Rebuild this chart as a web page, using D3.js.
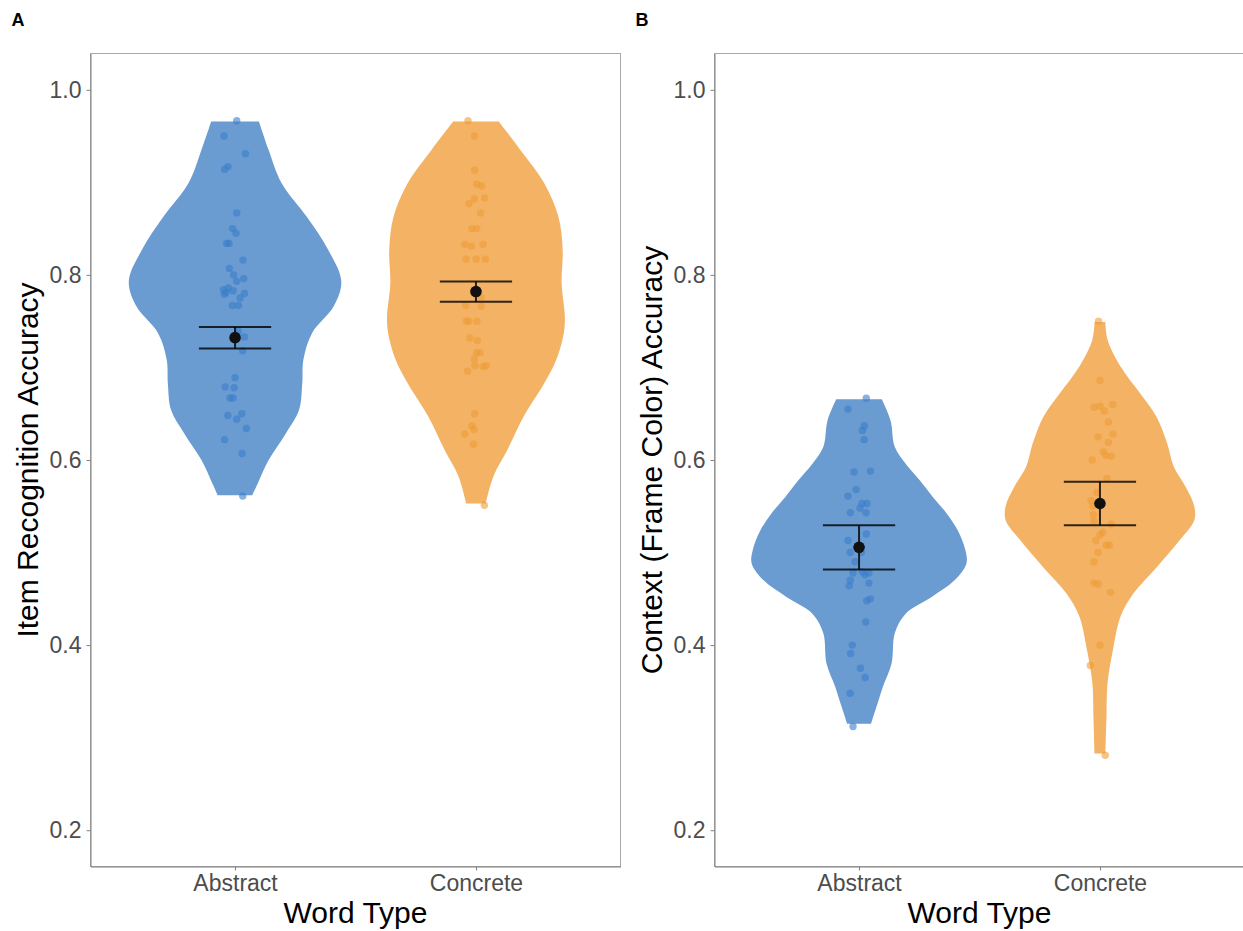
<!DOCTYPE html>
<html>
<head>
<meta charset="utf-8">
<script src="https://cdn.jsdelivr.net/npm/d3@7"></script>
<style>
  body { margin: 0; background: #fff; }
  svg text { font-family: "Liberation Sans", Arial, sans-serif; }
</style>
</head>
<body>
<div id="chart"></div>
<script>
// categories and tick labels
const categories = ["Abstract", "Concrete"];
const yTicks = [0.2, 0.4, 0.6, 0.8, 1.0];

// violin outlines: [accuracy, relative density]
const itemAbstractProfile = [[0.9657,0.22],[0.935,0.31],[0.899,0.43],[0.863,0.66],[0.827,0.86],[0.793,0.98],[0.766,0.91],[0.737,0.71],[0.708,0.63],[0.683,0.62],[0.654,0.59],[0.629,0.47],[0.600,0.31],[0.575,0.21],[0.562,0.16]];
const itemConcreteProfile = [[0.9657,0.21],[0.935,0.41],[0.899,0.63],[0.863,0.76],[0.827,0.80],[0.791,0.79],[0.755,0.82],[0.737,0.81],[0.708,0.74],[0.683,0.63],[0.647,0.44],[0.611,0.29],[0.582,0.16],[0.553,0.09]];
const contextAbstractProfile = [[0.6656,0.21],[0.643,0.29],[0.614,0.33],[0.596,0.43],[0.578,0.56],[0.560,0.68],[0.542,0.81],[0.524,0.91],[0.503,0.98],[0.488,0.99],[0.470,0.88],[0.452,0.67],[0.434,0.43],[0.413,0.33],[0.380,0.30],[0.355,0.22],[0.333,0.16],[0.315,0.11]];
const contextConcreteProfile = [[0.749,0.05],[0.730,0.07],[0.701,0.19],[0.672,0.37],[0.647,0.52],[0.618,0.62],[0.593,0.68],[0.571,0.79],[0.550,0.87],[0.535,0.87],[0.514,0.74],[0.485,0.53],[0.456,0.31],[0.431,0.19],[0.395,0.12],[0.359,0.07],[0.322,0.06],[0.283,0.05]];

// participant points (accuracy) and their horizontal jitter (in category units)
const itemAbstract = [0.9665,0.950,0.931,0.914,0.917,0.867,0.850,0.845,0.834,0.834,0.816,0.807,0.800,0.793,0.796,0.784,0.781,0.786,0.779,0.783,0.780,0.775,0.767,0.767,0.733,0.718,0.739,0.689,0.679,0.678,0.667,0.667,0.648,0.650,0.644,0.634,0.622,0.607,0.561];
const itemAbstractJitter = [0.007,-0.046,0.043,-0.043,-0.029,0.007,-0.010,0.004,-0.035,-0.025,0.033,-0.024,-0.006,0.007,0.036,-0.048,-0.037,-0.028,-0.044,-0.008,0.039,0.021,-0.011,0.014,0.039,0.032,0.014,0,-0.041,-0.004,-0.021,-0.008,-0.030,0.028,0.007,0.047,-0.044,0.029,0.032];
const itemConcrete = [0.9665,0.950,0.913,0.898,0.896,0.882,0.883,0.877,0.867,0.850,0.850,0.833,0.831,0.833,0.817,0.817,0.817,0.776,0.767,0.766,0.750,0.750,0.750,0.732,0.729,0.716,0.716,0.709,0.702,0.701,0.702,0.696,0.650,0.637,0.633,0.628,0.617,0.551];
const itemConcreteJitter = [-0.033,-0.006,-0.006,0.003,0.024,-0.007,0.036,-0.029,0.019,-0.017,0.003,-0.046,-0.019,0.030,-0.041,0.001,0.039,0.021,-0.043,0.022,-0.040,-0.030,0.004,-0.025,0.006,0.003,0.017,-0.007,-0.004,0.030,0.043,-0.035,-0.006,-0.017,-0.008,-0.046,-0.010,0.035];
const contextAbstract = [0.6667,0.655,0.637,0.632,0.622,0.587,0.588,0.568,0.561,0.553,0.553,0.548,0.543,0.543,0.520,0.513,0.500,0.500,0.490,0.478,0.479,0.476,0.478,0.470,0.464,0.467,0.448,0.450,0.425,0.400,0.391,0.375,0.365,0.348,0.312];
const contextAbstractJitter = [0.030,-0.046,0.022,0.014,0.021,-0.021,0.047,-0.012,-0.046,0.012,0.033,0.004,-0.036,0.029,0.030,-0.046,-0.037,0.010,-0.017,-0.025,0.014,0.025,0.041,-0.036,-0.041,0.041,0.032,0.047,0.028,-0.028,-0.035,0.006,0.025,-0.037,-0.025];
const contextConcrete = [0.750,0.686,0.657,0.658,0.653,0.660,0.641,0.625,0.628,0.619,0.609,0.605,0.604,0.600,0.580,0.565,0.556,0.550,0.541,0.534,0.531,0.522,0.519,0.513,0.508,0.508,0.500,0.490,0.467,0.466,0.457,0.400,0.378,0.281];
const contextConcreteJitter = [-0.006,0,-0.024,0,0.018,0.053,0.035,-0.008,0.054,0.035,0.014,0.024,0.047,-0.032,0.029,-0.012,-0.037,-0.029,-0.028,-0.025,0.047,0.012,0,-0.017,0.026,0.039,-0.008,-0.025,-0.025,-0.007,0.044,0,-0.040,0.022];

// means and standard errors
const itemMeans = [0.7322, 0.7820];
const itemSE = [0.0116, 0.0109];
const contextMeans = [0.5056, 0.5530];
const contextSE = [0.0238, 0.0236];

const width = 1243, height = 931;
const fills = ["#6a9bd1", "#f3b264"];
const pointFills = ["#3b7dc9", "#ee9c35"];

const svg = d3.select("#chart").append("svg")
  .attr("width", width)
  .attr("height", height);

const panels = [
  { tag: "A", left: 90.5, ylab: "Item Recognition Accuracy",
    profiles: [itemAbstractProfile, itemConcreteProfile],
    points: [itemAbstract, itemConcrete], jitter: [itemAbstractJitter, itemConcreteJitter],
    means: itemMeans, se: itemSE },
  { tag: "B", left: 714.5, ylab: "Context (Frame Color) Accuracy",
    profiles: [contextAbstractProfile, contextConcreteProfile],
    points: [contextAbstract, contextConcrete], jitter: [contextAbstractJitter, contextConcreteJitter],
    means: contextMeans, se: contextSE }
];

const plotTop = 53.5, plotBottom = 866.5, plotW = 530;

const y = d3.scaleLinear().domain([0.1608, 1.0392]).range([plotBottom, plotTop]);
const dens = d3.scaleLinear().domain([0, 1]).range([0, 0.45]);

panels.forEach(function(p) {
  const x = d3.scaleLinear().domain([0.4, 2.6]).range([p.left, p.left + plotW]);
  const g = svg.append("g");

  // violins
  p.profiles.forEach(function(prof, i) {
    const c = i + 1;
    const area = d3.area()
      .y(function(d) { return y(d[0]); })
      .x0(function(d) { return x(c - dens(d[1])); })
      .x1(function(d) { return x(c + dens(d[1])); })
      .curve(d3.curveCatmullRom);
    g.append("path")
      .datum(prof)
      .attr("d", area)
      .attr("fill", fills[i]);
  });

  // jittered points
  p.points.forEach(function(vals, i) {
    const c = i + 1;
    g.append("g").selectAll("circle")
      .data(vals)
      .enter()
      .append("circle")
      .attr("cx", function(d, j) { return x(c + p.jitter[i][j]); })
      .attr("cy", function(d) { return y(d); })
      .attr("r", 3.7)
      .attr("fill", pointFills[i])
      .attr("fill-opacity", 0.6);
  });

  // error bars + means
  p.means.forEach(function(m, i) {
    const c = i + 1;
    const lo = m - p.se[i], hi = m + p.se[i];
    const eb = g.append("g").attr("stroke", "#000").attr("stroke-opacity", 0.8).attr("stroke-width", 2);
    eb.append("line").attr("x1", x(c - 0.15)).attr("x2", x(c + 0.15)).attr("y1", y(hi)).attr("y2", y(hi));
    eb.append("line").attr("x1", x(c - 0.15)).attr("x2", x(c + 0.15)).attr("y1", y(lo)).attr("y2", y(lo));
    eb.append("line").attr("x1", x(c)).attr("x2", x(c)).attr("y1", y(hi)).attr("y2", y(lo));
    g.append("circle")
      .attr("cx", x(c)).attr("cy", y(m)).attr("r", 5.8)
      .attr("fill", "#111");
  });

  // panel border
  g.append("rect")
    .attr("x", p.left).attr("y", plotTop)
    .attr("width", plotW).attr("height", plotBottom - plotTop)
    .attr("fill", "none").attr("stroke", "#aaaaaa").attr("stroke-width", 1);

  // y axis
  const yAxis = g.append("g")
    .attr("transform", "translate(" + p.left + ",0)")
    .call(d3.axisLeft(y).tickValues(yTicks).tickFormat(d3.format(".1f")).tickSize(4).tickSizeOuter(0).tickPadding(5));
  yAxis.select(".domain").attr("stroke", "#808080");
  yAxis.selectAll(".tick line").attr("stroke", "#808080");
  yAxis.selectAll("text").attr("fill", "#4d4d4d").style("font-size", "23px").attr("font-family", null);

  // x axis
  const xAxis = g.append("g")
    .attr("transform", "translate(0," + plotBottom + ")")
    .call(d3.axisBottom(x).tickValues([1, 2]).tickFormat(function(d) { return categories[d - 1]; }).tickSize(4).tickSizeOuter(0).tickPadding(4));
  xAxis.select(".domain").attr("stroke", "#808080");
  xAxis.selectAll(".tick line").attr("stroke", "#808080");
  xAxis.selectAll("text").attr("fill", "#4d4d4d").style("font-size", "23px").attr("font-family", null);

  // axis titles
  g.append("text")
    .attr("x", p.left + plotW / 2)
    .attr("y", 923)
    .attr("text-anchor", "middle")
    .style("font-size", "30px")
    .attr("fill", "#000")
    .text("Word Type");

  g.append("text")
    .attr("transform", "translate(" + (p.left - 53) + "," + ((plotTop + plotBottom) / 2) + ") rotate(-90)")
    .attr("text-anchor", "middle")
    .style("font-size", "30px")
    .attr("fill", "#000")
    .text(p.ylab);

  // panel tag
  g.append("text")
    .attr("x", p.left - 79)
    .attr("y", 26)
    .style("font-size", "18px")
    .style("font-weight", "bold")
    .attr("fill", "#000")
    .text(p.tag);
});
</script>
</body>
</html>
